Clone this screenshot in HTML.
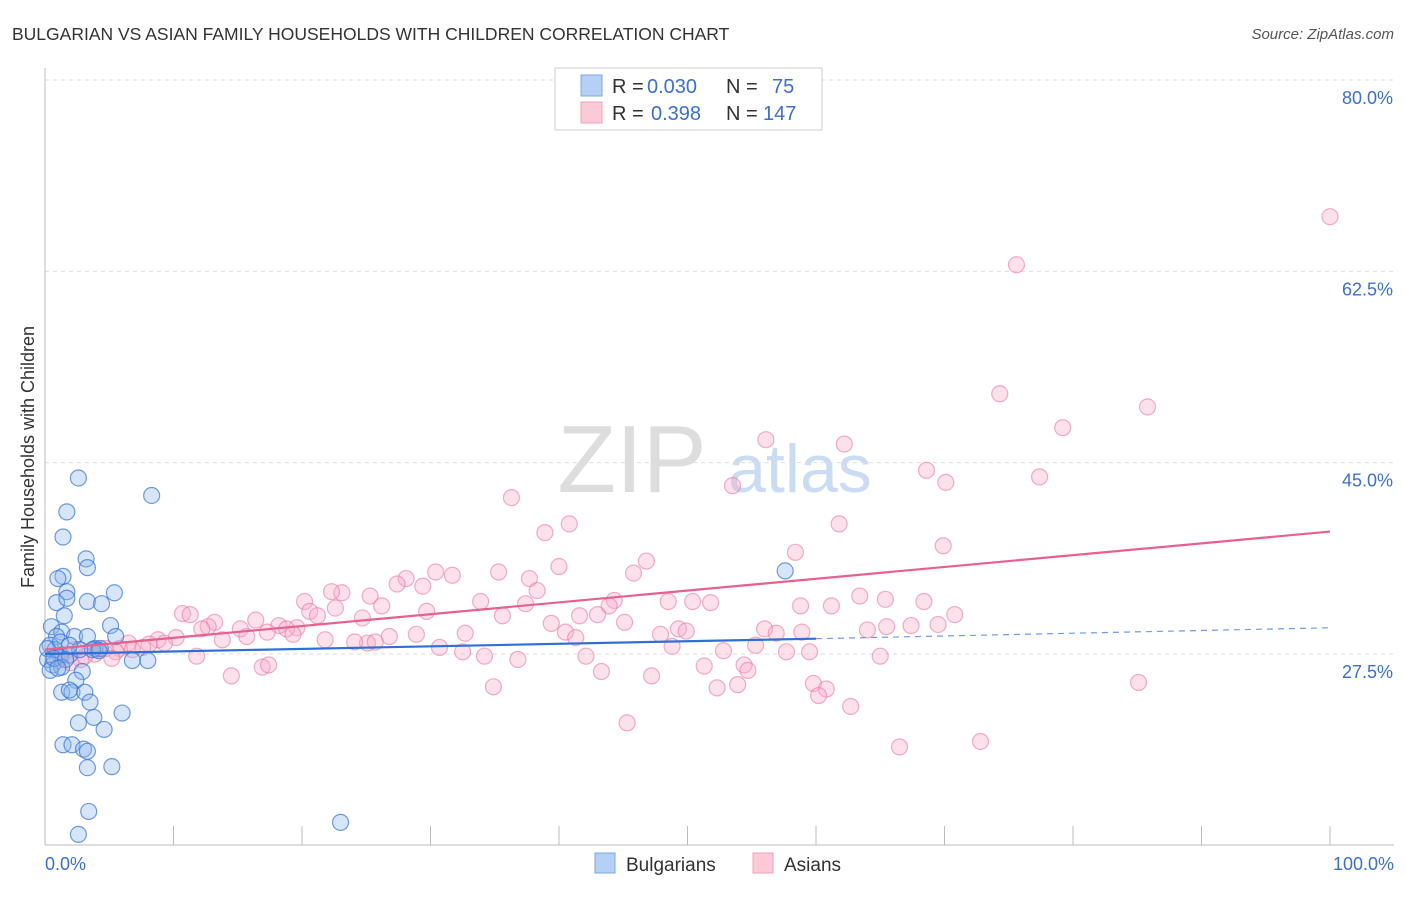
<!DOCTYPE html>
<html><head><meta charset="utf-8">
<style>
body{margin:0;background:#fff;font-family:"Liberation Sans",sans-serif;}
svg text{font-family:"Liberation Sans",sans-serif;}
</style></head>
<body>
<svg id="chart" width="1406" height="892">
<text x="12" y="40" font-size="17.5" fill="#333">BULGARIAN VS ASIAN FAMILY HOUSEHOLDS WITH CHILDREN CORRELATION CHART</text>
<text x="1394" y="39" font-size="15" fill="#555" font-style="italic" text-anchor="end">Source: ZipAtlas.com</text>
<text x="632" y="492" font-size="96" fill="#ddd" font-family="Liberation Serif" text-anchor="middle">ZIP</text>
<text x="800" y="492" font-size="68" fill="#c9dcf3" text-anchor="middle">atlas</text>
<text transform="translate(34,457) rotate(-90)" font-size="18" fill="#333" text-anchor="middle">Family Households with Children</text>
<g id="grid"></g><g id="axes"></g><g id="pts"></g><g id="trends"></g>
<g>
<rect x="555" y="68" width="267" height="62" fill="#fff" stroke="#ccc"/>
<rect x="581" y="75" width="21" height="21" fill="#b5d0f5" stroke="#7aa7e6"/>
<rect x="581" y="102" width="21" height="21" fill="#fcc9d8" stroke="#eea2b9"/>
<text x="612" y="93" font-size="20" fill="#333">R =</text>
<text x="647" y="93" font-size="20" fill="#3a6fd8">0.030</text>
<text x="726" y="93" font-size="20" fill="#333">N =</text>
<text x="772" y="93" font-size="20" fill="#3a6fd8">75</text>
<text x="612" y="120" font-size="20" fill="#333">R =</text>
<text x="651" y="120" font-size="20" fill="#3a6fd8">0.398</text>
<text x="726" y="120" font-size="20" fill="#333">N =</text>
<text x="763" y="120" font-size="20" fill="#3a6fd8">147</text>
</g>
<g>
<rect x="595" y="853" width="20" height="20" fill="#b5d0f5" stroke="#7aa7e6"/>
<text x="626" y="871" font-size="19" fill="#333">Bulgarians</text>
<text x="784" y="871" font-size="19" fill="#333">Asians</text>
<rect x="753" y="853" width="20" height="20" fill="#fcc9d8" stroke="#eea2b9"/>
</g>
</svg>
<script>
const yTicks=[27.5,45.0,62.5,80.0];
const yTickLabels=["27.5%","45.0%","62.5%","80.0%"];
const xTickLabels=["0.0%","100.0%"];
const bulgX=[2.6,8.3,1.7,1.4,3.2,3.3,1.4,1.0,1.7,5.4,3.3,0.9,4.4,1.7,1.5,0.5,5.1,1.3,0.9,2.3,3.3,5.5,0.4,0.8,1.2,0.2,1.9,2.7,3.9,4.3,6.8,8.0,0.6,1.3,2.9,0.4,2.4,1.3,2.1,1.9,3.1,3.5,6.0,3.8,2.6,4.6,1.4,2.1,3.0,3.3,3.3,5.2,3.4,2.6,23.0,57.6,0.2,0.7,1.6,1.2,1.9,1.0,3.7,4.2];
const bulgY=[43.6,42.0,40.5,38.2,36.2,35.4,34.6,34.4,33.2,33.1,32.3,32.2,32.1,32.6,31.0,30.0,30.1,29.5,29.1,29.1,29.1,29.1,28.3,27.9,27.4,27.0,27.4,27.9,28.0,28.0,26.9,26.9,26.5,26.3,25.9,26.0,25.1,24.0,24.0,24.2,24.0,23.1,22.1,21.7,21.2,20.6,19.2,19.2,18.8,18.6,17.1,17.2,13.1,11.0,12.1,35.1,28.0,27.1,27.0,28.6,28.3,26.2,27.9,27.8];
const asianX=[100,75.6,74.3,85.8,79.2,56.1,62.2,68.6,77.4,70.1,53.5,36.3,40.8,38.9,61.8,69.9,58.4,46.8,40.0,45.8,35.3,30.4,37.7,31.7,28.1,27.4,29.4,23.1,25.3,22.3,20.2,33.9,38.3,37.4,44.3,48.5,50.4,51.8,43.9,26.2,20.6,10.7,11.3,13.2,12.7,12.2,16.4,15.2,18.2,19.6,18.8,21.2,22.6,24.7,29.7,35.6,39.4,41.6,43.0,45.1,58.8,61.2,63.4,65.4,68.4,70.8,69.5,65.5,67.4,64.0,56.0,56.9,58.9,55.3,49.3,49.9,47.9,32.7,40.5,41.3,28.9,26.8,25.1,21.8,24.1,25.7,17.3,19.3,15.7,13.8,10.2,8.8,9.3,8.1,6.5,7.6,5.8,5.5,4.7,3.9,4.1,3.1,2.3,1.3,2.8,11.8,30.7,32.5,34.2,36.8,42.1,48.8,52.8,57.7,59.5,65.0,51.3,54.4,54.7,43.3,47.2,34.9,52.3,53.9,59.8,60.8,60.2,62.7,85.1,14.5,16.9,17.4,45.3,66.5,72.8,6.8,5.2,2.0,1.0];
const asianY=[67.5,63.1,51.3,50.1,48.2,47.1,46.7,44.3,43.7,43.2,42.9,41.8,39.4,38.6,39.4,37.4,36.8,36.0,35.5,34.9,35.0,35.0,34.4,34.7,34.4,33.9,33.7,33.1,32.8,33.2,32.3,32.3,33.3,32.1,32.4,32.3,32.3,32.2,31.9,31.9,31.4,31.2,31.1,30.4,30.0,29.8,30.6,29.8,30.1,29.9,29.8,31.0,31.7,30.8,31.4,31.0,30.3,31.0,31.1,30.4,31.9,31.9,32.8,32.5,32.3,31.1,30.2,30.0,30.1,29.7,29.8,29.4,29.5,28.3,29.8,29.6,29.3,29.4,29.5,29.0,29.3,29.1,28.5,28.8,28.6,28.6,29.5,29.3,29.1,28.8,29.0,28.8,28.5,28.4,28.5,28.1,28.0,27.7,28.0,27.5,27.9,27.3,27.9,27.2,27.0,27.3,28.1,27.7,27.3,27.0,27.3,28.2,27.8,27.7,27.7,27.3,26.4,26.5,26.0,25.9,25.5,24.5,24.4,24.7,24.8,24.3,23.7,22.7,24.9,25.5,26.3,26.5,21.2,19.0,19.5,27.9,27.1,26.7,26.9];
const bulgTrend=[27.5,28.9,29.9]; // at x=0, 60, 100
const asianTrend=[27.9,38.7]; // at x=0, 100

const NS="http://www.w3.org/2000/svg";
const X0=45,X1=1330,xs=v=>X0+(X1-X0)*v/100;
const ys=v=>654-(v-27.5)*(654-80)/52.5;
function mk(tag,attrs,parent){const e=document.createElementNS(NS,tag);for(const k in attrs)e.setAttribute(k,attrs[k]);document.getElementById(parent).appendChild(e);return e;}

yTicks.forEach((t,i)=>{
  const l=mk('line',{x1:45,x2:1394,y1:ys(t),y2:ys(t),stroke:'#ddd','stroke-dasharray':'4,4'},'grid');
  
  
  const tx=mk('text',{x:1393,y:ys(t)+24,'font-size':18,fill:'#3a6fd8','text-anchor':'end'},'grid');
  tx.textContent=yTickLabels[i];
  
  
});
const ax=mk('line',{x1:45,x2:1394,y1:845,y2:845,stroke:'#bbb'},'axes');


const ay=mk('line',{x1:45,x2:45,y1:68,y2:845,stroke:'#bbb'},'axes');


for(let i=0;i<=10;i++){
  const t=mk('line',{x1:xs(i*10),x2:xs(i*10),y1:826,y2:845,stroke:'#bbb'},'axes');
  
  
}
[[0,'start',45],[100,'end',1394]].forEach((p,i)=>{
  const t=mk('text',{x:p[2],y:870,'font-size':18,fill:'#3a6fd8','text-anchor':p[1]},'axes');
  t.textContent=xTickLabels[i];
  
  
});
asianX.forEach((v,i)=>{
  const c=mk('circle',{cx:xs(v),cy:ys(asianY[i]),r:8,fill:'rgba(248,170,195,0.35)',stroke:'rgba(236,120,158,0.6)','stroke-width':1.2},'pts');
  
  
});
bulgX.forEach((v,i)=>{
  const c=mk('circle',{cx:xs(v),cy:ys(bulgY[i]),r:8,fill:'rgba(140,180,235,0.35)',stroke:'rgba(50,115,215,0.7)','stroke-width':1.2},'pts');
  
  
});
const l1=mk('line',{x1:xs(0),y1:ys(asianTrend[0]),x2:xs(100),y2:ys(asianTrend[1]),stroke:'#e8608e','stroke-width':2.2},'trends');


const l2=mk('line',{x1:xs(0),y1:ys(bulgTrend[0]),x2:xs(60),y2:ys(bulgTrend[1]),stroke:'#2f6fd6','stroke-width':2.2},'trends');


const l3=mk('line',{x1:xs(60),y1:ys(bulgTrend[1]),x2:xs(100),y2:ys(bulgTrend[2]),stroke:'#6f9be0','stroke-width':1.2,'stroke-dasharray':'6,5'},'trends');


</script>
</body></html>
